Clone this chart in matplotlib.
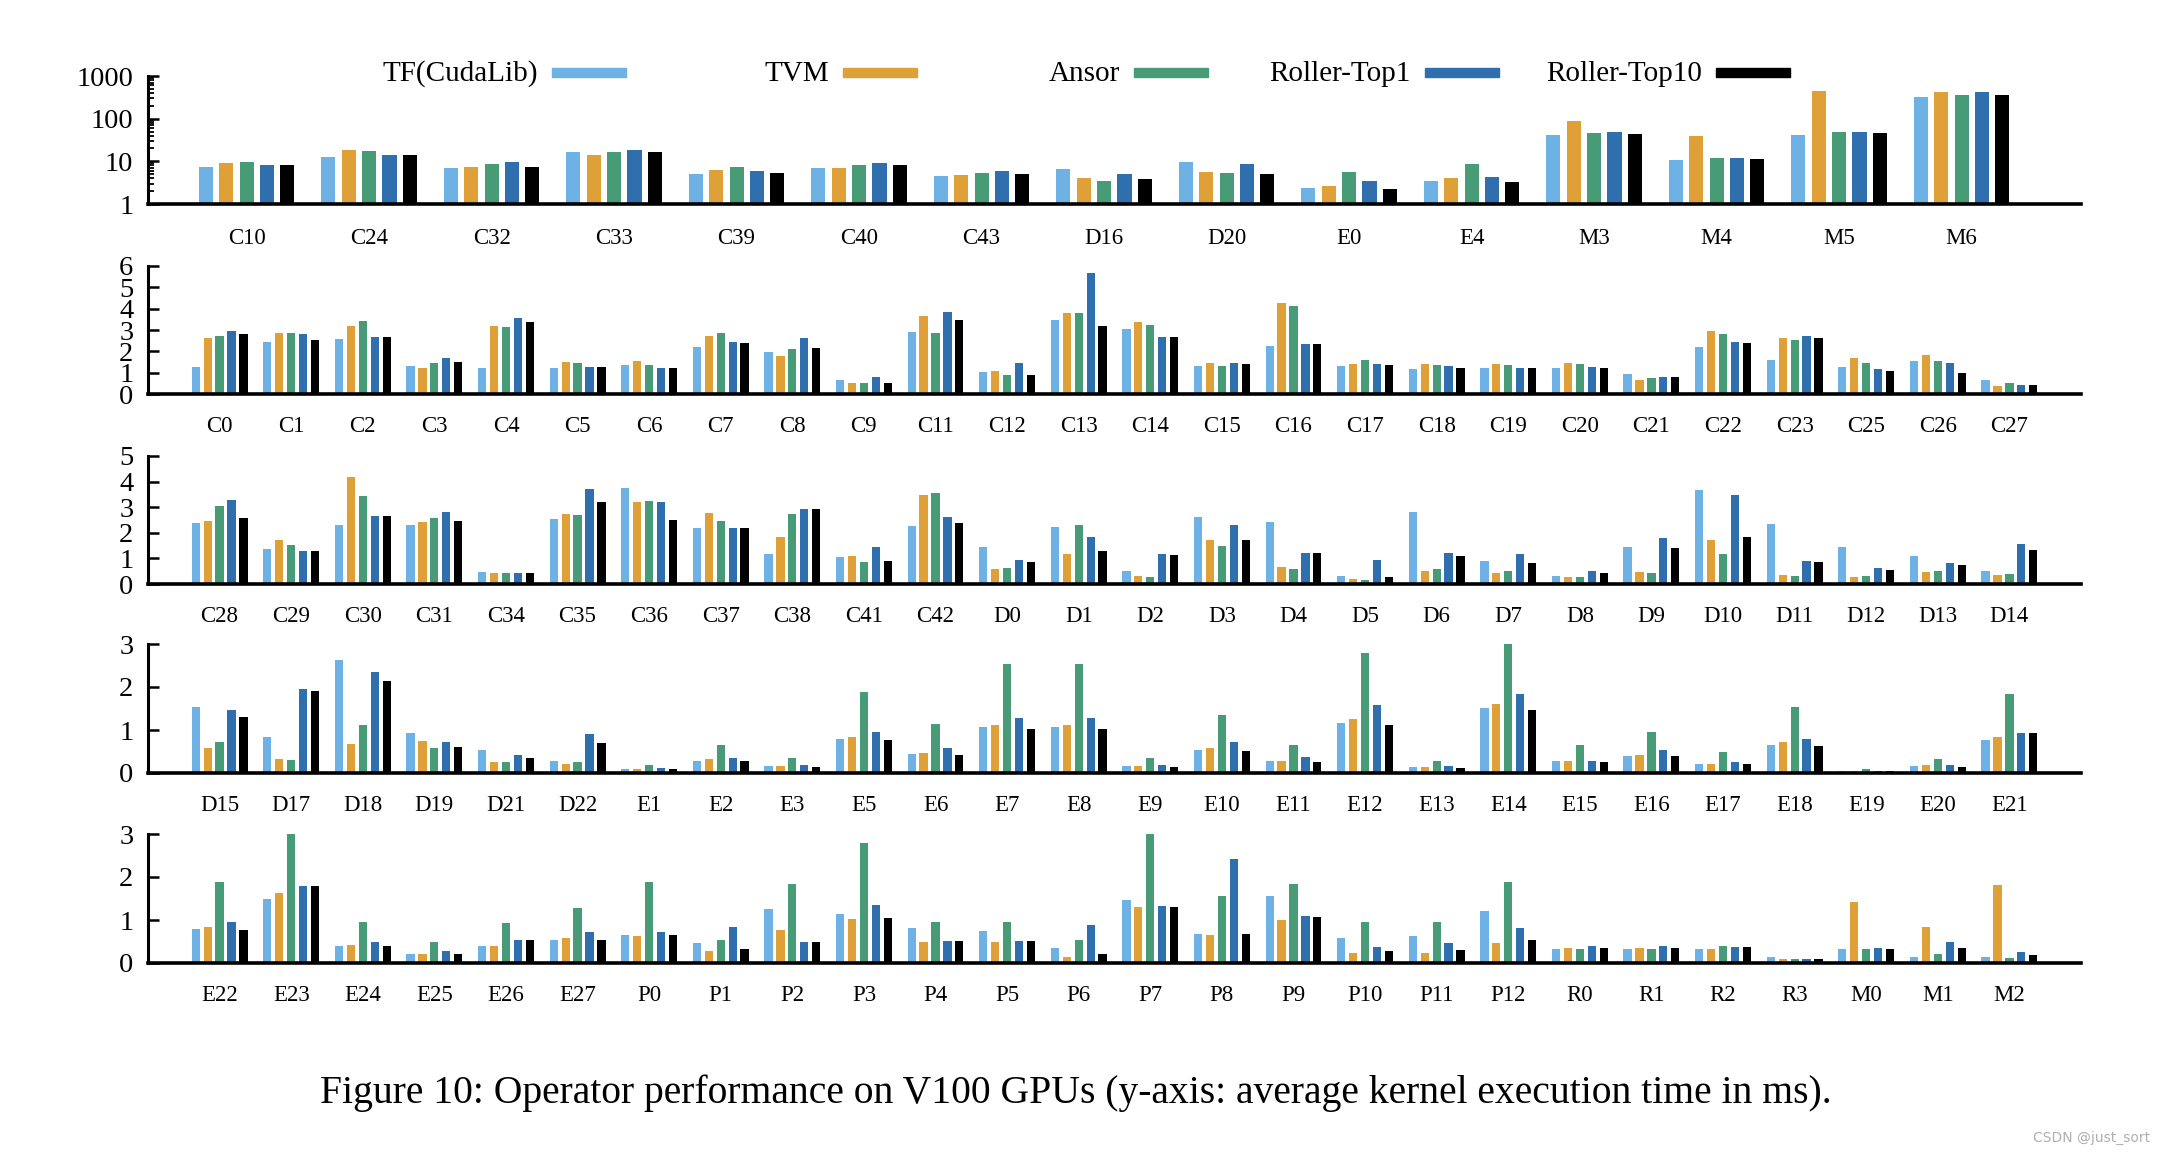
import numpy as np
import matplotlib
matplotlib.use("Agg")
import matplotlib.pyplot as plt
from matplotlib.patches import Rectangle
from matplotlib.ticker import NullFormatter, LogLocator

plt.rcParams["font.family"] = ["Liberation Serif", "DejaVu Serif"]

# ─────────────────────────────────────────────────
# DATA  (average kernel execution time, ms)
# ─────────────────────────────────────────────────
series_names = ["TF(CudaLib)", "TVM", "Ansor", "Roller-Top1", "Roller-Top10"]
series_colors = ["#6eb1e4", "#dea037", "#479c77", "#2f6fad", "#000000"]

# row 1 (log scale)
row1_ops = ["C10", "C24", "C32", "C33", "C39", "C40", "C43", "D16", "D20", "E0",
            "E4", "M3", "M4", "M5", "M6"]
row1_tf    = [7.5, 12.6, 7.1, 16.3, 5.1, 7.0, 4.6, 6.5, 9.8, 2.4, 3.5, 42, 11, 42, 316]
row1_tvm   = [9.3, 18.8, 7.5, 14.3, 6.4, 7.1, 4.8, 4.0, 5.6, 2.7, 4.1, 90, 38.5, 445, 422]
row1_ansor = [9.6, 17.8, 8.8, 16.9, 7.2, 8.1, 5.3, 3.5, 5.3, 5.7, 8.7, 46, 11.8, 50, 352]
row1_top1  = [8.4, 14.1, 9.8, 18.8, 5.9, 9.0, 5.8, 5.0, 8.7, 3.5, 4.4, 50, 11.8, 50, 430]
row1_top10 = [8.1, 14.1, 7.5, 16.9, 5.3, 8.2, 5.0, 3.9, 5.0, 2.3, 3.3, 44.5, 11.5, 45, 365]

# row 2
row2_ops = ["C0", "C1", "C2", "C3", "C4", "C5", "C6", "C7", "C8", "C9", "C11", "C12", "C13",
            "C14", "C15", "C16", "C17", "C18", "C19", "C20", "C21", "C22", "C23", "C25", "C26", "C27"]
row2_tf    = [1.25, 2.46, 2.57, 1.29, 1.21, 1.20, 1.37, 2.18, 1.99, 0.65, 2.90, 1.01, 3.49,
              3.04, 1.31, 2.26, 1.32, 1.17, 1.20, 1.21, 0.92, 2.20, 1.60, 1.28, 1.53, 0.64]
row2_tvm   = [2.63, 2.88, 3.18, 1.21, 3.21, 1.50, 1.53, 2.74, 1.78, 0.51, 3.66, 1.07, 3.80,
              3.37, 1.45, 4.25, 1.40, 1.42, 1.40, 1.46, 0.65, 2.96, 2.62, 1.70, 1.81, 0.39]
row2_ansor = [2.74, 2.85, 3.40, 1.46, 3.12, 1.46, 1.34, 2.84, 2.10, 0.50, 2.84, 0.87, 3.80,
              3.24, 1.29, 4.11, 1.59, 1.34, 1.36, 1.40, 0.75, 2.82, 2.52, 1.46, 1.56, 0.50]
row2_top1  = [2.95, 2.82, 2.66, 1.68, 3.54, 1.25, 1.21, 2.43, 2.62, 0.81, 3.86, 1.43, 5.66,
              2.66, 1.45, 2.34, 1.42, 1.31, 1.21, 1.28, 0.81, 2.45, 2.73, 1.17, 1.45, 0.44]
row2_top10 = [2.79, 2.52, 2.66, 1.50, 3.37, 1.25, 1.21, 2.37, 2.17, 0.51, 3.46, 0.87, 3.21,
              2.66, 1.40, 2.34, 1.36, 1.21, 1.21, 1.21, 0.81, 2.38, 2.62, 1.09, 0.97, 0.44]

# row 3
row3_ops = ["C28", "C29", "C30", "C31", "C34", "C35", "C36", "C37", "C38", "C41", "C42", "D0", "D1",
            "D2", "D3", "D4", "D5", "D6", "D7", "D8", "D9", "D10", "D11", "D12", "D13", "D14"]
row3_tf    = [2.38, 1.35, 2.30, 2.29, 0.47, 2.53, 3.74, 2.17, 1.19, 1.04, 2.27, 1.44, 2.21,
              0.51, 2.61, 2.44, 0.31, 2.82, 0.88, 0.31, 1.44, 3.66, 2.36, 1.43, 1.08, 0.51]
row3_tvm   = [2.47, 1.71, 4.17, 2.42, 0.43, 2.74, 3.19, 2.79, 1.84, 1.09, 3.49, 0.58, 1.19,
              0.31, 1.73, 0.68, 0.19, 0.52, 0.42, 0.29, 0.47, 1.73, 0.35, 0.29, 0.48, 0.35]
row3_ansor = [3.03, 1.52, 3.43, 2.57, 0.43, 2.69, 3.26, 2.47, 2.75, 0.87, 3.56, 0.62, 2.32,
              0.29, 1.48, 0.58, 0.17, 0.58, 0.51, 0.29, 0.43, 1.18, 0.31, 0.32, 0.51, 0.39]
row3_top1  = [3.27, 1.29, 2.65, 2.81, 0.42, 3.70, 3.19, 2.19, 2.92, 1.43, 2.61, 0.92, 1.82,
              1.19, 2.32, 1.23, 0.95, 1.21, 1.18, 0.49, 1.79, 3.49, 0.91, 0.64, 0.83, 1.57]
row3_top10 = [2.56, 1.29, 2.64, 2.48, 0.42, 3.21, 2.51, 2.17, 2.92, 0.90, 2.40, 0.84, 1.29,
              1.12, 1.73, 1.22, 0.29, 1.08, 0.82, 0.44, 1.40, 1.83, 0.84, 0.56, 0.73, 1.31]

# row 4
row4_ops = ["D15", "D17", "D18", "D19", "D21", "D22", "E1", "E2", "E3", "E5", "E6", "E7", "E8",
            "E9", "E10", "E11", "E12", "E13", "E14", "E15", "E16", "E17", "E18", "E19", "E20", "E21"]
row4_tf    = [1.54, 0.83, 2.62, 0.93, 0.53, 0.29, 0.09, 0.28, 0.155, 0.78, 0.44, 1.06, 1.06,
              0.155, 0.54, 0.29, 1.17, 0.13, 1.52, 0.29, 0.40, 0.22, 0.65, 0.05, 0.155, 0.77]
row4_tvm   = [0.57, 0.33, 0.67, 0.74, 0.25, 0.22, 0.09, 0.33, 0.16, 0.83, 0.46, 1.11, 1.11,
              0.16, 0.57, 0.29, 1.26, 0.13, 1.60, 0.29, 0.43, 0.22, 0.71, 0.05, 0.18, 0.83]
row4_ansor = [0.71, 0.31, 1.12, 0.57, 0.26, 0.25, 0.18, 0.66, 0.34, 1.88, 1.15, 2.53, 2.53,
              0.36, 1.34, 0.66, 2.80, 0.28, 3.02, 0.66, 0.95, 0.49, 1.54, 0.10, 0.33, 1.84]
row4_top1  = [1.47, 1.96, 2.34, 0.72, 0.42, 0.91, 0.12, 0.34, 0.18, 0.95, 0.59, 1.28, 1.28,
              0.18, 0.71, 0.37, 1.57, 0.155, 1.84, 0.28, 0.54, 0.26, 0.78, 0.05, 0.18, 0.93]
row4_top10 = [1.30, 1.91, 2.15, 0.61, 0.36, 0.70, 0.085, 0.27, 0.15, 0.76, 0.43, 1.02, 1.02,
              0.15, 0.52, 0.26, 1.12, 0.12, 1.47, 0.26, 0.39, 0.21, 0.63, 0.05, 0.15, 0.93]

# row 5
row5_ops = ["E22", "E23", "E24", "E25", "E26", "E27", "P0", "P1", "P2", "P3", "P4", "P5", "P6",
            "P7", "P8", "P9", "P10", "P11", "P12", "R0", "R1", "R2", "R3", "M0", "M1", "M2"]
row5_tf    = [0.78, 1.49, 0.40, 0.22, 0.40, 0.54, 0.65, 0.46, 1.25, 1.15, 0.82, 0.75, 0.35,
              1.46, 0.68, 1.55, 0.58, 0.62, 1.22, 0.33, 0.33, 0.33, 0.15, 0.33, 0.14, 0.14]
row5_tvm   = [0.83, 1.62, 0.42, 0.22, 0.40, 0.57, 0.63, 0.27, 0.77, 1.02, 0.49, 0.48, 0.15,
              1.30, 0.65, 1.00, 0.24, 0.24, 0.46, 0.35, 0.35, 0.32, 0.10, 1.42, 0.84, 1.82]
row5_ansor = [1.88, 3.02, 0.95, 0.48, 0.92, 1.28, 1.88, 0.54, 1.84, 2.79, 0.96, 0.96, 0.54,
              3.02, 1.55, 1.84, 0.95, 0.95, 1.88, 0.33, 0.33, 0.40, 0.10, 0.33, 0.22, 0.12]
row5_top1  = [0.95, 1.80, 0.48, 0.28, 0.53, 0.72, 0.73, 0.84, 0.50, 1.36, 0.52, 0.51, 0.89,
              1.32, 2.43, 1.09, 0.38, 0.47, 0.81, 0.40, 0.40, 0.38, 0.09, 0.35, 0.48, 0.26]
row5_top10 = [0.76, 1.80, 0.39, 0.22, 0.53, 0.53, 0.64, 0.32, 0.50, 1.04, 0.52, 0.51, 0.22,
              1.30, 0.67, 1.06, 0.28, 0.30, 0.54, 0.35, 0.35, 0.38, 0.09, 0.33, 0.35, 0.19]

rows = [
    (row1_ops, [row1_tf, row1_tvm, row1_ansor, row1_top1, row1_top10], 1000, True),
    (row2_ops, [row2_tf, row2_tvm, row2_ansor, row2_top1, row2_top10], 6, False),
    (row3_ops, [row3_tf, row3_tvm, row3_ansor, row3_top1, row3_top10], 5, False),
    (row4_ops, [row4_tf, row4_tvm, row4_ansor, row4_top1, row4_top10], 3, False),
    (row5_ops, [row5_tf, row5_tvm, row5_ansor, row5_top1, row5_top10], 3, False),
]

# ─────────────────────────────────────────────────
# LAYOUT (pixels on a 2160x1152 canvas)
# ─────────────────────────────────────────────────
W_PX, H_PX = 2160, 1152
AX_LEFT, AX_RIGHT = 148, 2081
row_px = [(76, 204), (266, 394), (456, 584), (644, 773), (834, 963)]

fig = plt.figure(figsize=(W_PX / 100, H_PX / 100), dpi=100)

for i, (ops, vals, ymax, is_log) in enumerate(rows):
    top, bot = row_px[i]
    ax = fig.add_axes([AX_LEFT / W_PX, 1 - bot / H_PX,
                       (AX_RIGHT - AX_LEFT) / W_PX, (bot - top) / H_PX])
    x = np.arange(len(ops))
    for k in range(5):
        ax.bar(x + (k - 2) / 6, vals[k], width=0.115, color=series_colors[k],
               log=is_log, zorder=2)

    if is_log:
        ax.set_yscale("log")
        ax.set_ylim(1, ymax)
        ax.set_yticks([1, 10, 100, 1000])
        ax.set_yticklabels(["1", "10", "100", "1000"])
        ax.yaxis.set_minor_locator(LogLocator(base=10, subs=np.arange(2, 10)))
        ax.yaxis.set_minor_formatter(NullFormatter())
        ax.set_xlim(-0.805, len(ops) - 0.025)
        xpad = 17
    else:
        ax.set_ylim(0, ymax)
        ax.set_yticks(range(0, ymax + 1))
        ax.set_xlim(-1, len(ops))
        xpad = 15.5

    ax.set_xticks(x)
    ax.set_xticklabels(ops)

    ax.spines[["top", "right"]].set_visible(False)
    ax.spines["left"].set_linewidth(2.2)
    ax.spines["bottom"].set_linewidth(2.6)

    ax.tick_params(axis="x", length=0, labelsize=16.5, pad=xpad)
    ax.tick_params(axis="y", which="major", direction="in", length=8, width=1.8,
                   labelsize=20.5, pad=10.5)
    ax.tick_params(axis="y", which="minor", direction="in", length=4, width=1.3)

# legend: text right-aligned before each colour swatch
leg_x0, leg_pitch, leg_y = 552, 291, 72
for k, name in enumerate(series_names):
    px = leg_x0 + k * leg_pitch
    fig.patches.append(Rectangle((px / W_PX, 1 - (leg_y + 4.5) / H_PX), 74 / W_PX, 9 / H_PX,
                                 transform=fig.transFigure, color=series_colors[k]))
    fig.text((px - 14) / W_PX, 1 - 81 / H_PX, name, ha="right", va="baseline", fontsize=21)

fig.text(1076 / W_PX, 1 - 1103 / H_PX,
         "Figure 10: Operator performance on V100 GPUs (y-axis: average kernel execution time in ms).",
         ha="center", va="baseline", fontsize=28.5)

fig.text(2150 / W_PX, 1 - 1142 / H_PX, "CSDN @just_sort", ha="right", va="baseline",
         fontsize=10, color="#b0b0b0", family="DejaVu Sans")

plt.savefig("out.png", dpi=100)
plt.close()
